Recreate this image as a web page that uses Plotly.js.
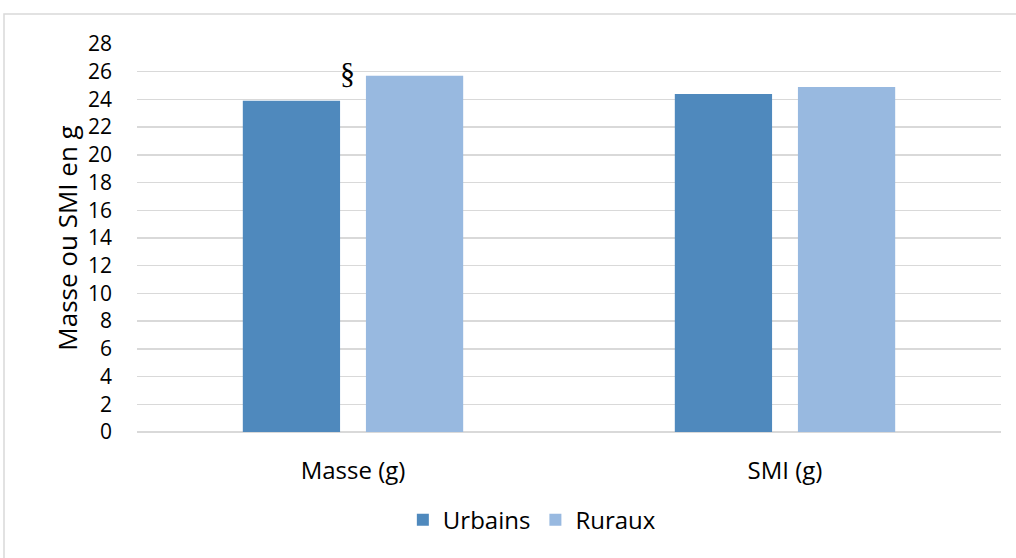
<!DOCTYPE html>
<html><head><meta charset="utf-8">
<script src="https://cdn.plot.ly/plotly-3.0.1.min.js"></script>
<style>html,body{margin:0;padding:0;background:#fff;}#chart{width:1016px;height:558px;}</style>
</head><body><div id="chart"></div>
<script>
const categories = ["Masse (g)", "SMI (g)"];
const urbains = [23.9, 24.4];
const ruraux = [25.7, 24.9];
const yTicks = [0,2,4,6,8,10,12,14,16,18,20,22,24,26,28];
const seriesNames = ["Urbains", "Ruraux"];
const annotText = "§";

const font = "'Open Sans', sans-serif";
const data = [
  {type:"bar", name:seriesNames[0], x:categories, y:urbains, marker:{color:"#4f89bd"}, hoverinfo:"none"},
  {type:"bar", name:seriesNames[1], x:categories, y:ruraux, marker:{color:"#98b9e0"}, hoverinfo:"none"}
];
const layout = {
  width:1016, height:558,
  margin:{l:137, r:15, t:44, b:126},
  paper_bgcolor:"#fff", plot_bgcolor:"#fff",
  barmode:"group", bargap:0.43, bargroupgap:0.21,
  font:{family:font, size:20, color:"#000"},
  xaxis:{type:"category", showgrid:false, zeroline:false, showline:false, ticks:"",
         tickfont:{family:font, size:24, color:"#000"}, ticklabelstandoff:22},
  yaxis:{range:[0,28], tickvals:yTicks, ticktext:yTicks.map(String), showgrid:true, gridcolor:"#d9d9d9", gridwidth:1.5,
         zeroline:true, zerolinecolor:"#d9d9d9", zerolinewidth:1.5, showline:false, ticks:"",
         tickfont:{family:font, size:21, color:"#000"}, ticklabelstandoff:24,
         title:{text:"Masse ou SMI en g", font:{family:font, size:26, color:"#000"}, standoff:2}},
  showlegend:true,
  legend:{orientation:"h", x:0.457, xanchor:"center", y:-0.227, yanchor:"middle",
          font:{family:font, size:24, color:"#000"}, itemwidth:30, traceorder:"normal"},
  annotations:[{x:categories[0], y:urbains[0], xref:"x", yref:"y", text:annotText, showarrow:false,
                xshift:-6, yshift:28, font:{family:"'Liberation Serif', serif", size:30, color:"#000"}}],
  shapes:[{type:"rect", xref:"paper", yref:"paper", x0:(4-137)/864, x1:(1030-137)/864, y0:(432-570)/388, y1:(432-14)/388,
           line:{color:"#d9d9d9", width:1.5}, fillcolor:"rgba(0,0,0,0)", layer:"below"}]
};
Plotly.newPlot("chart", data, layout, {staticPlot:true, displayModeBar:false});
</script></body></html>
